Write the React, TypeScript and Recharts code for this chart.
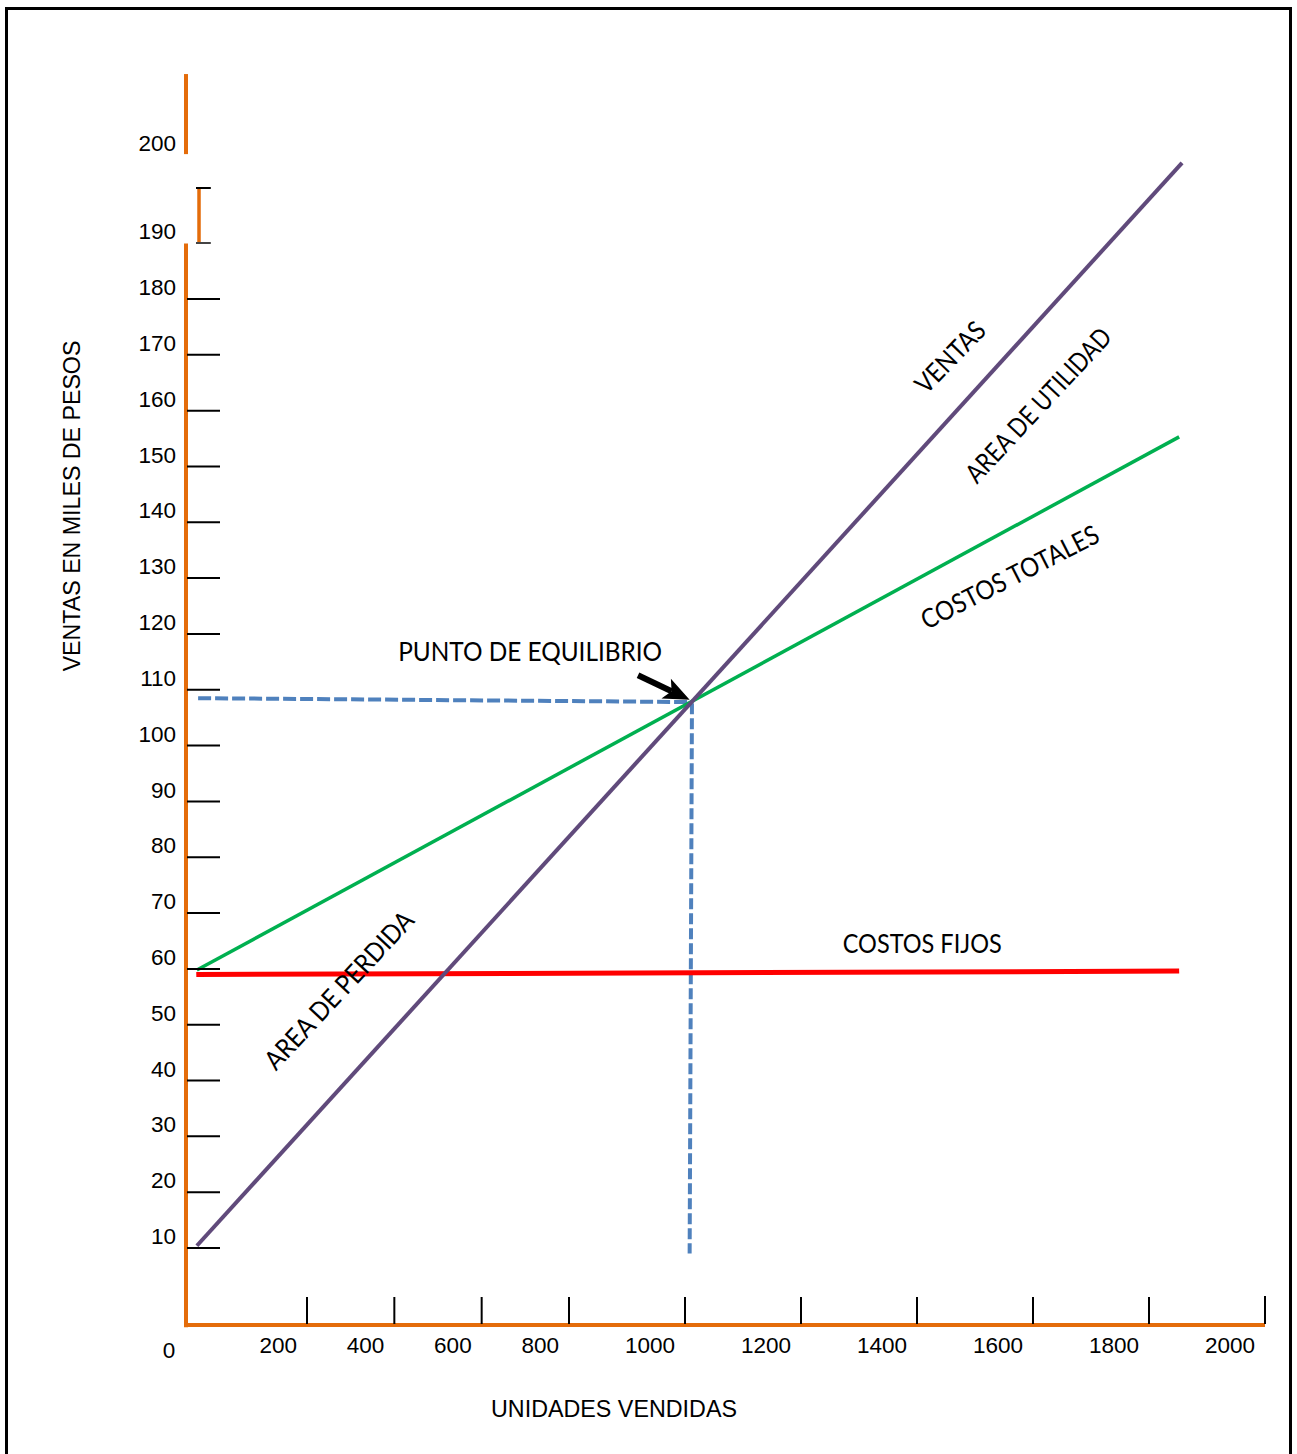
import React from 'react';
import { ComposedChart, Line, XAxis, YAxis, ReferenceLine, ReferenceDot } from 'recharts';

// ---------- data ----------
const unidadesTicks = [0, 200, 400, 600, 800, 1000, 1200, 1400, 1600, 1800, 2000];
const ventasTicks = [10, 20, 30, 40, 50, 60, 70, 80, 90, 100, 110, 120, 130, 140, 150, 160, 170, 180, 190, 200];

const ventasLinea = [
  { x: 18, y: 10.4 },
  { x: 1857, y: 199.1 },
];
const costosTotalesLinea = [
  { x: 18, y: 59.8 },
  { x: 1852, y: 155.3 },
];
const costosFijosLinea = [
  { x: 17, y: 59.0 },
  { x: 1852, y: 59.6 },
];
const equilibrioHorizontal = [
  { x: 20, y: 108.5 },
  { x: 1010, y: 107.8 },
];
const equilibrioVertical = [
  { x: 1012, y: 107.6 },
  { x: 1008, y: 9.3 },
];
const flecha = [
  { x: 919, y: 112.6 },
  { x: 1008, y: 108.2 },
];

const etiquetas = [
  { texto: 'VENTAS', x: 1457, y: 169.6, angulo: -46 },
  { texto: 'AREA DE UTILIDAD', x: 1609, y: 161.0, angulo: -47 },
  { texto: 'COSTOS TOTALES', x: 1560, y: 130.2, angulo: -27 },
  { texto: 'AREA DE PERDIDA', x: 273, y: 56.2, angulo: -47 },
  { texto: 'PUNTO DE EQUILIBRIO', x: 711, y: 116.9, angulo: 0 },
  { texto: 'COSTOS FIJOS', x: 1409, y: 64.5, angulo: 0 },
];

// ---------- layout / styling ----------
const W = 1297;
const H = 1454;
const PLOT_LEFT = 186;
const PLOT_RIGHT = 1265;
const PLOT_TOP = 67;
const PLOT_BOTTOM = 1325;

const ORANGE = '#E46C0A';
const ARIAL = '"Liberation Sans", Arial, sans-serif';
const CALIBRI = 'Lato, "Open Sans", sans-serif';

const textWidths: Record<string, number> = {
  VENTAS: 88,
  'AREA DE UTILIDAD': 200,
  'COSTOS TOTALES': 196,
  'AREA DE PERDIDA': 205,
  'PUNTO DE EQUILIBRIO': 264,
  'COSTOS FIJOS': 159,
};

// broken (piecewise linear) axis, as drawn in the original sketch
function brokenScale(knotsV: number[], knotsF: number[]): any {
  let dom = [knotsV[0], knotsV[knotsV.length - 1]];
  let rng = [0, 1];
  const frac = (v: number) => {
    const n = knotsV.length;
    let i = 0;
    while (i < n - 2 && v > knotsV[i + 1]) i++;
    const t = (v - knotsV[i]) / (knotsV[i + 1] - knotsV[i]);
    return knotsF[i] + t * (knotsF[i + 1] - knotsF[i]);
  };
  const s: any = (v: any) => rng[0] + frac(Number(v)) * (rng[rng.length - 1] - rng[0]);
  s.domain = (d?: any[]) => {
    if (d === undefined) return dom.slice();
    dom = d.slice();
    return s;
  };
  s.range = (r?: any[]) => {
    if (r === undefined) return rng.slice();
    rng = r.slice();
    return s;
  };
  s.copy = () => brokenScale(knotsV, knotsF).domain(dom).range(rng);
  s.ticks = () => knotsV.slice();
  s.nice = () => s;
  s.clamp = () => s;
  return s;
}

const xKnotsPx = [186, 307, 569, 1265];
const xScale = brokenScale(
  [0, 200, 800, 2000],
  xKnotsPx.map((p) => (p - PLOT_LEFT) / (PLOT_RIGHT - PLOT_LEFT)),
);
const yKnotsPx = [1325, 1248, 299, 243, 155, 67];
const yScale = brokenScale(
  [0, 10, 180, 190, 200, 210],
  yKnotsPx.map((p) => (PLOT_BOTTOM - p) / (PLOT_BOTTOM - PLOT_TOP)),
);

const XTick = (props: any) => {
  const { x, y, payload } = props;
  const v = payload.value;
  if (v === 0) {
    return (
      <text x={x - 17} y={y + 25} dy="0.36em" textAnchor="middle" fontFamily={ARIAL} fontSize={22.5} fill="#000">
        0
      </text>
    );
  }
  return (
    <g>
      <line x1={x} y1={y - (v === 2000 ? 29 : 28)} x2={x} y2={y - 1} stroke="#000" strokeWidth={2} />
      <text x={x - 10} y={y + 20} dy="0.36em" textAnchor="end" fontFamily={ARIAL} fontSize={22.5} fill="#000">
        {v}
      </text>
    </g>
  );
};

const YTick = (props: any) => {
  const { x, y, payload } = props;
  const v = payload.value;
  return (
    <g>
      {v <= 180 && <line x1={x + 1} y1={y} x2={x + 34} y2={y} stroke="#000" strokeWidth={2} />}
      <text x={x - 10} y={y - 12} dy="0.36em" textAnchor="end" fontFamily={ARIAL} fontSize={22.5} fill="#000">
        {v}
      </text>
    </g>
  );
};

const ArrowShape = (p: any) => {
  const { x1, y1, x2, y2 } = p;
  const a = Math.atan2(y2 - y1, x2 - x1);
  const L = 26;
  const Wd = 11;
  const bx = x2 - L * Math.cos(a);
  const by = y2 - L * Math.sin(a);
  const mx = x2 - (L - 6) * Math.cos(a);
  const my = y2 - (L - 6) * Math.sin(a);
  const pts = [
    [x2, y2],
    [bx + Wd * Math.sin(a), by - Wd * Math.cos(a)],
    [mx, my],
    [bx - Wd * Math.sin(a), by + Wd * Math.cos(a)],
  ]
    .map((q) => q.join(','))
    .join(' ');
  return (
    <g>
      <line x1={x1} y1={y1} x2={mx} y2={my} stroke="#000" strokeWidth={6} />
      <polygon points={pts} fill="#000" />
    </g>
  );
};

const makeNote = (texto: string, angulo: number) => (p: any) => {
  const { cx, cy } = p;
  return (
    <text
      x={cx}
      y={cy}
      dy="0.36em"
      textAnchor="middle"
      transform={angulo ? `rotate(${angulo} ${cx} ${cy})` : undefined}
      fontFamily={CALIBRI}
      fontSize={26.5}
      fill="#000"
      textLength={textWidths[texto]}
      lengthAdjust="spacingAndGlyphs"
    >
      {texto}
    </text>
  );
};

const yTitle = () => (
  <text
    x={72}
    y={506}
    dy="0.36em"
    textAnchor="middle"
    transform="rotate(-90 72 506)"
    fontFamily={ARIAL}
    fontSize={23.2}
    fill="#000"
  >
    VENTAS EN MILES DE PESOS
  </text>
);

const xTitle = () => (
  <text x={614} y={1409} dy="0.36em" textAnchor="middle" fontFamily={ARIAL} fontSize={23.3} fill="#000">
    UNIDADES VENDIDAS
  </text>
);

export default function App() {
  return (
    <div style={{ position: 'relative', width: W, height: H, overflow: 'hidden', background: '#fff' }}>
      <style>{'body{margin:0;}'}</style>
      <div
        style={{
          position: 'absolute',
          left: 5,
          top: 7,
          width: 1287,
          height: 1470,
          border: '3px solid #000',
          boxSizing: 'border-box',
        }}
      />
      <div style={{ position: 'absolute', left: 0, top: 0 }}>
        <ComposedChart
          width={W}
          height={H}
          margin={{ top: PLOT_TOP, right: W - PLOT_RIGHT, bottom: H - PLOT_BOTTOM - 30, left: PLOT_LEFT - 60 }}
        >
          <XAxis
            xAxisId={0}
            type="number"
            dataKey="x"
            domain={[0, 2000]}
            allowDataOverflow
            scale={xScale}
            ticks={unidadesTicks}
            interval={0}
            axisLine={false}
            tickLine={false}
            tickSize={0}
            tickMargin={0}
            height={30}
            tick={<XTick />}
            label={xTitle}
          />
          <YAxis
            yAxisId={0}
            type="number"
            dataKey="y"
            domain={[0, 210]}
            allowDataOverflow
            scale={yScale}
            ticks={ventasTicks}
            interval={0}
            axisLine={false}
            tickLine={false}
            tickSize={0}
            tickMargin={0}
            width={60}
            tick={<YTick />}
            label={yTitle}
          />

          {/* axis lines (broken y axis) */}
          <ReferenceLine segment={[{ x: -3, y: 0 }, { x: 2000, y: 0 }]} stroke={ORANGE} strokeWidth={4} ifOverflow="visible" />
          <ReferenceLine segment={[{ x: 0, y: -0.3 }, { x: 0, y: 189.9 }]} stroke={ORANGE} strokeWidth={4} ifOverflow="visible" />
          <ReferenceLine segment={[{ x: 0, y: 200.1 }, { x: 0, y: 209.2 }]} stroke={ORANGE} strokeWidth={4} ifOverflow="visible" />
          <ReferenceLine segment={[{ x: 21.5, y: 190 }, { x: 21.5, y: 196.2 }]} stroke={ORANGE} strokeWidth={3.5} ifOverflow="visible" />
          <ReferenceLine segment={[{ x: 16.5, y: 196.25 }, { x: 41, y: 196.25 }]} stroke="#000" strokeWidth={2} ifOverflow="visible" />
          <ReferenceLine segment={[{ x: 16.5, y: 190 }, { x: 41, y: 190 }]} stroke="#444" strokeWidth={2} ifOverflow="visible" />

          <Line data={equilibrioHorizontal} dataKey="y" type="linear" stroke="#4F81BD" strokeWidth={4} strokeDasharray="13 4" dot={false} activeDot={false} isAnimationActive={false} />
          <Line data={equilibrioVertical} dataKey="y" type="linear" stroke="#4F81BD" strokeWidth={4} strokeDasharray="11 4" dot={false} activeDot={false} isAnimationActive={false} />
          <Line data={costosFijosLinea} dataKey="y" type="linear" stroke="#FF0000" strokeWidth={5} dot={false} activeDot={false} isAnimationActive={false} />
          <Line data={costosTotalesLinea} dataKey="y" type="linear" stroke="#00B050" strokeWidth={3.5} dot={false} activeDot={false} isAnimationActive={false} />
          <Line data={ventasLinea} dataKey="y" type="linear" stroke="#604A7B" strokeWidth={4} dot={false} activeDot={false} isAnimationActive={false} />

          <ReferenceLine segment={flecha} ifOverflow="visible" shape={ArrowShape} />

          {etiquetas.map((e) => (
            <ReferenceDot
              key={e.texto}
              x={e.x}
              y={e.y}
              r={0}
              ifOverflow="visible"
              shape={makeNote(e.texto, e.angulo)}
            />
          ))}
        </ComposedChart>
      </div>
    </div>
  );
}
